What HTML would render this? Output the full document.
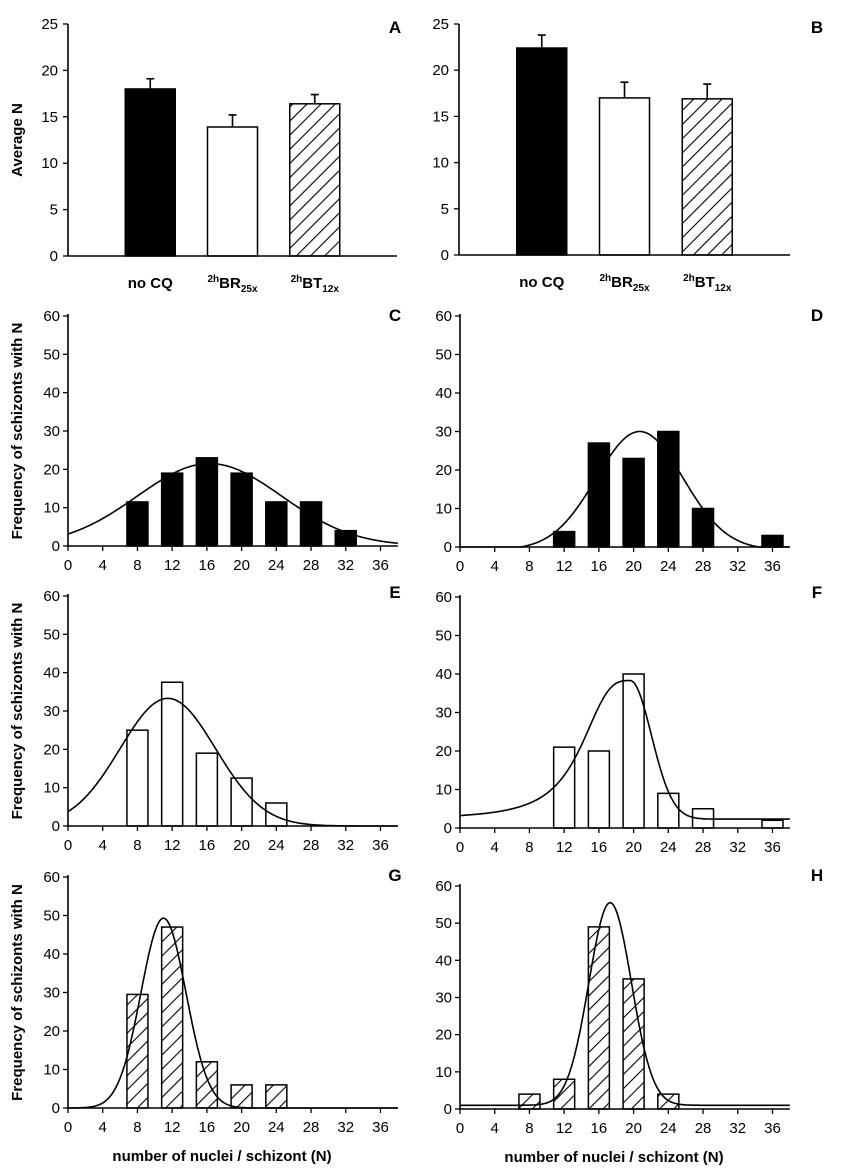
<!DOCTYPE html>
<html><head><meta charset="utf-8">
<style>
html,body{margin:0;padding:0;background:#fff;}
svg{display:block;font-family:"Liberation Sans",Arial,sans-serif;}
</style></head>
<body>
<svg id="fig" width="841" height="1173" viewBox="0 0 841 1173" xmlns="http://www.w3.org/2000/svg">
<defs>
<pattern id="hatch" patternUnits="userSpaceOnUse" width="10" height="10" patternTransform="rotate(45)">
<rect width="10" height="10" fill="#fff"/>
<line x1="0" y1="0" x2="0" y2="10" stroke="#000" stroke-width="2.2"/>
</pattern>
</defs>
</svg>
<script>
// ---- data ----
const barCats = ["no CQ", "BR", "BT"];
const barA = [18.0, 13.9, 16.4];
const errA = [1.1, 1.3, 1.0];
const barB = [22.4, 17.0, 16.9];
const errB = [1.4, 1.7, 1.6];
const yTicksBar = [0, 5, 10, 15, 20, 25];
const xTicksHist = [0, 4, 8, 12, 16, 20, 24, 28, 32, 36];
const yTicksHist = [0, 10, 20, 30, 40, 50, 60];
const binsC = [8, 12, 16, 20, 24, 28, 32];
const freqC = [11.5, 19, 23, 19, 11.5, 11.5, 4];
const binsD = [12, 16, 20, 24, 28, 36];
const freqD = [4, 27, 23, 30, 10, 3];
const binsE = [8, 12, 16, 20, 24];
const freqE = [25, 37.5, 19, 12.5, 6];
const binsF = [12, 16, 20, 24, 28, 36];
const freqF = [21, 20, 40, 9, 5, 2];
const binsG = [8, 12, 16, 20, 24];
const freqG = [29.5, 47, 12, 6, 6];
const binsH = [8, 12, 16, 20, 24];
const freqH = [4, 8, 49, 35, 4];
// fit parameters [peak, center, sigma, baseline]
const fitC = [21.5, 16.3, 8.3, 0];
const fitD = [30.7, 20.7, 5, -0.7];
const fitE = [33.3, 11.5, 5.5, 0];
const fitF = [36, 19.6, 2.45, 2.3];
const fitG = [49.3, 11, 2.6, 0];
const fitH = [54.5, 17.3, 2.45, 1];

const NS = "http://www.w3.org/2000/svg";
const svg = document.getElementById("fig");
function mk(tag, attrs, parent){
  const e = document.createElementNS(NS, tag);
  for (const k in attrs) e.setAttribute(k, attrs[k]);
  (parent||svg).appendChild(e);
  return e;
}
function txt(s, x, y, size, anchor, bold, parent){
  const t = mk("text", {x:x, y:y, "font-size":size, "text-anchor":anchor||"middle", "font-weight":bold?"bold":"normal", fill:"#000"}, parent);
  t.textContent = s;
  return t;
}

function panelLetter(g, s, x, y){
  const t = txt(s, x, y, 17, "middle", true, g);
  
  
}

function barPanel(id, L, vals, errs, letter, showTitle){
  const g = mk("g", {});
  
  
  const y = v => L.y0 - (v/25)*(L.y0 - L.ytop);
  const band = (L.xend - L.ox)/4;
  const xc = i => L.ox + band*(i+1);
  yTicksBar.forEach(v => {
    mk("line", {x1:L.ox-5, x2:L.ox, y1:y(v), y2:y(v), stroke:"#000", "stroke-width":1.3}, g);
    const t = txt(String(v), L.ox-10, y(v)+5, 15, "end", false, g);
    
    
  });
  const fills = ["#000", "#fff", "url(#hatch)"];
  vals.forEach((v, i) => {
    const top = y(v);
    const r = mk("rect", {x:xc(i)-25, y:top, width:50, height:L.y0-top, fill:fills[i], stroke:"#000", "stroke-width":1.5}, g);
    
    
    const et = y(v + errs[i]);
    const eb = mk("path", {d:`M${xc(i)} ${top} V${et} M${xc(i)-4} ${et} H${xc(i)+4}`, stroke:"#000", "stroke-width":1.6, fill:"none"}, g);
    
    
  });
  mk("line", {x1:L.ox, x2:L.ox, y1:L.ytop, y2:L.y0, stroke:"#000", "stroke-width":1.6}, g);
  mk("line", {x1:L.ox, x2:L.xend, y1:L.y0, y2:L.y0, stroke:"#000", "stroke-width":1.6}, g);
  const ly = L.y0 + 32;
  let t = txt("no CQ", xc(0), ly, 15, "middle", true, g);
  
  
  [["BR","25x"],["BT","12x"]].forEach((p, k) => {
    const tt = mk("text", {x:xc(k+1), y:ly, "font-size":15, "text-anchor":"middle", "font-weight":"bold"}, g);
    
    
    const s1 = mk("tspan", {"font-size":10, dy:-6}, tt); s1.textContent = "2h";
    const s2 = mk("tspan", {"font-size":15, dy:6}, tt); s2.textContent = p[0];
    const s3 = mk("tspan", {"font-size":10, dy:4}, tt); s3.textContent = p[1];
  });
  if (showTitle){
    const yt = txt("Average N", 0, 0, 15, "middle", true, g);
    yt.setAttribute("transform", `translate(22 ${(L.ytop+L.y0)/2}) rotate(-90)`);
    
    
  }
  panelLetter(g, letter, L.letterX, L.letterY);
}

function fitFn(p, x, id){
  if (id === "F"){
    const d = x - p[1];
    if (d < 0){ const w = 5.87; return p[3] + p[0]/(1 + Math.pow(Math.abs(d)/w, 3)); }
    return p[3] + p[0]*Math.exp(-d*d/(2*p[2]*p[2]));
  }
  const v = p[0]*Math.exp(-(x-p[1])*(x-p[1])/(2*p[2]*p[2])) + p[3];
  return Math.max(0, v);
}

function histPanel(id, L, bins, freqs, fit, style, letter, showYTitle, showXTitle){
  const g = mk("g", {});
  
  
  const sx = 8.68;
  const x = v => L.ox + v*sx;
  const y = v => L.y0 - (v/60)*(L.y0 - L.y60);
  const xend = x(38);
  yTicksHist.forEach(v => {
    mk("line", {x1:L.ox-5, x2:L.ox, y1:y(v), y2:y(v), stroke:"#000", "stroke-width":1.3}, g);
    const t = txt(String(v), L.ox-8, y(v)+5, 15, "end", false, g);
    
    
  });
  xTicksHist.forEach(v => {
    mk("line", {x1:x(v), x2:x(v), y1:L.y0, y2:L.y0+5, stroke:"#000", "stroke-width":1.3}, g);
    const t = txt(String(v), x(v), L.y0+24, 15, "middle", false, g);
    
    
  });
  const fill = style === "solid" ? "#000" : (style === "hatch" ? "url(#hatch)" : "#fff");
  bins.forEach((b, i) => {
    const top = y(freqs[i]);
    const r = mk("rect", {x:x(b)-10.5, y:top, width:21, height:L.y0-top, fill:fill, stroke:"#000", "stroke-width":1.5}, g);
    
    
  });
  let d = "";
  for (let i = 0; i <= 380; i++){
    const xv = i*0.1;
    d += (i ? "L" : "M") + x(xv).toFixed(1) + " " + y(fitFn(fit, xv, id)).toFixed(1);
  }
  const c = mk("path", {d:d, fill:"none", stroke:"#000", "stroke-width":1.6}, g);
  
  
  mk("line", {x1:L.ox, x2:L.ox, y1:y(60)-2, y2:L.y0, stroke:"#000", "stroke-width":1.6}, g);
  mk("line", {x1:L.ox, x2:xend, y1:L.y0, y2:L.y0, stroke:"#000", "stroke-width":1.6}, g);
  if (showYTitle){
    const yt = txt("Frequency of schizonts with N", 0, 0, 15, "middle", true, g);
    yt.setAttribute("transform", `translate(22 ${(L.y60+L.y0)/2}) rotate(-90)`);
    
    
  }
  if (showXTitle){
    const xt = txt("number of nuclei / schizont (N)", L.ox + 154, L.y0 + 53, 15, "middle", true, g);
    
    
  }
  panelLetter(g, letter, L.letterX, L.letterY);
}

barPanel("a", {ox:68, y0:256, ytop:24, xend:397, letterX:395, letterY:33}, barA, errA, "A", true);
barPanel("b", {ox:459, y0:255, ytop:24, xend:790, letterX:817, letterY:33}, barB, errB, "B", false);
histPanel("C", {ox:68, y0:546, y60:316, letterX:395, letterY:321}, binsC, freqC, fitC, "solid", "C", true, false);
histPanel("D", {ox:460, y0:547, y60:316, letterX:817, letterY:321}, binsD, freqD, fitD, "solid", "D", false, false);
histPanel("E", {ox:68, y0:826, y60:596, letterX:395, letterY:598}, binsE, freqE, fitE, "open", "E", true, false);
histPanel("F", {ox:460, y0:828, y60:597, letterX:817, letterY:598}, binsF, freqF, fitF, "open", "F", false, false);
histPanel("G", {ox:68, y0:1108, y60:877, letterX:395, letterY:881}, binsG, freqG, fitG, "hatch", "G", true, true);
histPanel("H", {ox:460, y0:1109, y60:886, letterX:817, letterY:881}, binsH, freqH, fitH, "hatch", "H", false, true);
</script>
</body></html>
